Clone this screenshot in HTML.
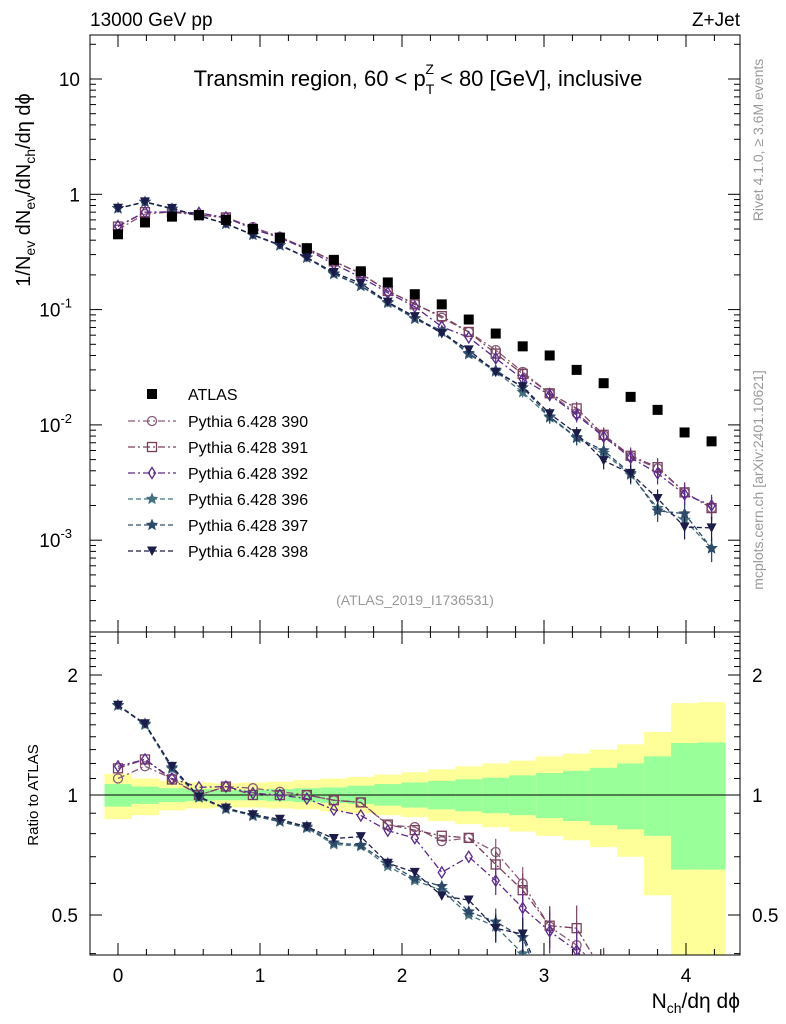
<!DOCTYPE html>
<html><head><meta charset="utf-8"><style>
html,body{margin:0;padding:0;background:#fff;overflow:hidden;width:786px;height:1024px;}
svg{display:block;font-family:"Liberation Sans",Arial,sans-serif;}
</style></head><body>
<svg id="chart" width="786" height="1024" xmlns="http://www.w3.org/2000/svg">
<defs>
<clipPath id="cm"><rect x="90" y="35" width="650" height="597"/></clipPath>
<clipPath id="cr"><rect x="90" y="632" width="650" height="323"/></clipPath>
</defs>
<g id="bands" clip-path="url(#cr)"></g>
<g id="axes"></g>
<g id="mainMarks" clip-path="url(#cm)"></g>
<g id="ratioMarks" clip-path="url(#cr)"></g>
<text x="90" y="26" font-size="19">13000 GeV pp</text>
<text x="740" y="26" font-size="19" text-anchor="end">Z+Jet</text>
<text x="418" y="86" font-size="22" text-anchor="middle">Transmin region, 60 &lt; p<tspan font-size="14" dy="8">T</tspan><tspan font-size="14" dx="-9" dy="-20">Z</tspan><tspan dy="12"> &lt; 80 [GeV], inclusive</tspan></text>
<text x="415" y="605" font-size="14" fill="#999" text-anchor="middle">(ATLAS_2019_I1736531)</text>
<text transform="translate(763,140) rotate(-90)" font-size="14" fill="#999" text-anchor="middle">Rivet 4.1.0, ≥ 3.6M events</text>
<text transform="translate(763,480) rotate(-90)" font-size="14" fill="#999" text-anchor="middle">mcplots.cern.ch [arXiv:2401.10621]</text>
<text transform="translate(30,190) rotate(-90)" font-size="20" text-anchor="middle">1/N<tspan font-size="14" dy="5">ev</tspan><tspan dy="-5"> dN</tspan><tspan font-size="14" dy="5">ev</tspan><tspan dy="-5">/dN</tspan><tspan font-size="14" dy="5">ch</tspan><tspan dy="-5">/dη dϕ</tspan></text>
<text transform="translate(38,795) rotate(-90)" font-size="15" text-anchor="middle">Ratio to ATLAS</text>
<text x="740" y="1008" font-size="21" text-anchor="end">N<tspan font-size="14" dy="5">ch</tspan><tspan dy="-5">/dη dϕ</tspan></text>
<g id="legend"></g>
</svg>
<script>
const xs = [0,0.19,0.38,0.57,0.76,0.95,1.14,1.33,1.52,1.71,1.9,2.09,2.28,2.47,2.66,2.85,3.04,3.23,3.42,3.61,3.8,3.99,4.18];
const atlas = [0.45,0.57,0.64,0.66,0.60,0.50,0.42,0.34,0.27,0.215,0.172,0.136,0.111,0.082,0.062,0.048,0.040,0.030,0.023,0.0175,0.0135,0.0086,0.0072];
const p390 = [0.495,0.673,0.704,0.66,0.63,0.52,0.428,0.34,0.262,0.206,0.1445,0.113,0.085,0.064,0.0446,0.0288,0.0187,0.0126,0.0081,0.0053,0.0042,0.0026,0.0019];
const p391 = [0.525,0.70,0.70,0.66,0.63,0.50,0.42,0.34,0.262,0.206,0.145,0.111,0.0877,0.064,0.0415,0.0277,0.0188,0.0139,0.0082,0.0054,0.0043,0.0026,0.0019];
const p392 = [0.531,0.70,0.704,0.69,0.63,0.505,0.42,0.333,0.248,0.191,0.140,0.106,0.071,0.0574,0.0378,0.025,0.0182,0.0122,0.0079,0.0052,0.0038,0.0025,0.002];
const p396 = [0.754,0.855,0.745,0.65,0.553,0.443,0.36,0.281,0.203,0.16,0.114,0.083,0.064,0.041,0.029,0.0192,0.0116,0.0077,0.0057,0.0037,0.0019,0.0015,0.00085];
const p397 = [0.756,0.86,0.75,0.653,0.556,0.445,0.361,0.283,0.205,0.161,0.116,0.084,0.0655,0.0418,0.0298,0.0211,0.0118,0.0078,0.006,0.0038,0.0018,0.0017,0.00085];
const p398 = [0.756,0.86,0.755,0.653,0.556,0.446,0.365,0.283,0.21,0.169,0.116,0.087,0.062,0.0447,0.0287,0.0215,0.0125,0.0084,0.0049,0.0038,0.0023,0.0013,0.00128];
const yelHi = [1.13,1.10,1.085,1.075,1.07,1.075,1.08,1.09,1.10,1.11,1.125,1.14,1.16,1.18,1.20,1.22,1.25,1.27,1.30,1.34,1.44,1.70,1.71];
const yelLo = [0.87,0.89,0.915,0.925,0.93,0.93,0.925,0.92,0.91,0.9,0.89,0.88,0.86,0.845,0.83,0.81,0.79,0.77,0.74,0.70,0.56,0.3,0.3];
const grnHi = [1.065,1.05,1.04,1.035,1.03,1.03,1.035,1.04,1.045,1.055,1.065,1.075,1.085,1.095,1.105,1.12,1.135,1.15,1.17,1.2,1.25,1.35,1.355];
const grnLo = [0.935,0.95,0.96,0.965,0.97,0.97,0.965,0.96,0.955,0.95,0.94,0.93,0.92,0.91,0.9,0.89,0.875,0.86,0.84,0.82,0.79,0.65,0.65];
const seriesNames = ["Pythia 6.428 390","Pythia 6.428 391","Pythia 6.428 392","Pythia 6.428 396","Pythia 6.428 397","Pythia 6.428 398"];
const mainTicks = [10,1,0.1,0.01,0.001];
const mainTickLabels = ["10","1","10|-1","10|-2","10|-3"];
const xTicks = [0,1,2,3,4];
const ratioTickLabels = [0.5,1,2];

const NS="http://www.w3.org/2000/svg";
function X(v){return 118+v*142;}
function Y(v){return 79+(1-Math.log10(v))*115.3;}
function R(v){return 795-Math.log10(v)*398.6;}
function mk(tag,attrs,parent){const e=document.createElementNS(NS,tag);for(const k in attrs)e.setAttribute(k,attrs[k]);parent.appendChild(e);return e;}

const styles=[
 {c:"#8a5a7a",d:"7,3,2,3",m:"circle",n:"pythia-390"},
 {c:"#7a3f5c",d:"7,3,2,3",m:"square",n:"pythia-391"},
 {c:"#5b2a8c",d:"7,3,2,3",m:"diamond",n:"pythia-392"},
 {c:"#45707f",d:"5,3",m:"star",n:"pythia-396"},
 {c:"#2e4a6a",d:"5,3",m:"star",n:"pythia-397"},
 {c:"#1c1c4a",d:"5,3",m:"tri",n:"pythia-398"}];
const series=[p390,p391,p392,p396,p397,p398];

function starPts(cx,cy,r){let s=[];for(let i=0;i<10;i++){const a=-Math.PI/2+i*Math.PI/5;const rr=i%2?r*0.45:r;s.push((cx+rr*Math.cos(a)).toFixed(1)+","+(cy+rr*Math.sin(a)).toFixed(1));}return s.join(" ");}
function marker(type,cx,cy,c,g){
 let e;
 if(type==="circle")e=mk("circle",{cx:cx,cy:cy,r:4.5,fill:"none",stroke:c,"stroke-width":1.3},g);
 else if(type==="square")e=mk("rect",{x:cx-4.5,y:cy-4.5,width:9,height:9,fill:"none",stroke:c,"stroke-width":1.3},g);
 else if(type==="diamond")e=mk("polygon",{points:`${cx},${cy-5.5} ${cx+3.5},${cy} ${cx},${cy+5.5} ${cx-3.5},${cy}`,fill:"none",stroke:c,"stroke-width":1.3},g);
 else if(type==="star")e=mk("polygon",{points:starPts(cx,cy,6.5),fill:c},g);
 else if(type==="tri")e=mk("polygon",{points:`${cx-5},${cy-4.5} ${cx+5},${cy-4.5} ${cx},${cy+5}`,fill:c},g);
 else if(type==="atlas")e=mk("rect",{x:cx-5,y:cy-5,width:10,height:10,fill:"#000"},g);
 return e;
}

const bands=document.getElementById("bands");
for(let i=0;i<xs.length;i++){
 const x0=X(xs[i]-0.095), x1=X(xs[i]+0.095);
 const y=mk("rect",{x:x0,y:R(yelHi[i]),width:x1-x0+0.5,height:R(yelLo[i])-R(yelHi[i]),fill:"#ffff99"},bands);
 
 
 const gr=mk("rect",{x:x0,y:R(grnHi[i]),width:x1-x0+0.5,height:R(grnLo[i])-R(grnHi[i]),fill:"#99ff99"},bands);
 
 
}

const ax=document.getElementById("axes");
mk("rect",{x:90,y:35,width:650,height:597,fill:"none",stroke:"#000","stroke-width":1},ax);
mk("rect",{x:90,y:632,width:650,height:323,fill:"none",stroke:"#000","stroke-width":1},ax);
const one=mk("line",{x1:90,x2:740,y1:R(1),y2:R(1),stroke:"#000","stroke-width":1},ax);

for(let v=-0.2;v<=4.4;v+=0.2){
 const vv=Math.round(v*10)/10; if(X(vv)<90||X(vv)>740)continue;
 const major=Math.abs(vv-Math.round(vv))<1e-6; const L=major?12:6;
 [[632,-1],[35,1],[955,-1],[632,1]].forEach(([y,d])=>mk("line",{x1:X(vv),x2:X(vv),y1:y,y2:y+d*L,stroke:"#000"},ax));
}
xTicks.forEach(v=>{const t=mk("text",{x:X(v),y:982,"font-size":19,"text-anchor":"middle"},ax);t.textContent=v;
 });
for(let e=-4;e<=1;e++){for(let k=1;k<=9;k++){const v=k*Math.pow(10,e);const y=Y(v);if(y<35||y>632)continue;
 const L=k===1?12:6; mk("line",{x1:90,x2:90+L,y1:y,y2:y,stroke:"#000"},ax); mk("line",{x1:740,x2:740-L,y1:y,y2:y,stroke:"#000"},ax);}}
mainTicks.forEach((v,i)=>{const parts=mainTickLabels[i].split("|");
 const t=mk("text",{x:parts[1]?72:80,y:Y(v)+7,"font-size":19,"text-anchor":"end"},ax);t.textContent=parts[0];
 
 if(parts[1]){const s=mk("tspan",{"font-size":13,dy:-9},t);s.textContent=parts[1];}});
for(let k=4;k<=25;k++){const v=k/10;const y=R(v);if(y<632||y>955)continue;
 const major=(v===0.5||v===1||v===2);const L=major?12:6;
 mk("line",{x1:90,x2:90+L,y1:y,y2:y,stroke:"#000"},ax);mk("line",{x1:740,x2:740-L,y1:y,y2:y,stroke:"#000"},ax);}
ratioTickLabels.forEach(v=>{
 const t=mk("text",{x:78,y:R(v)+7,"font-size":19,"text-anchor":"end"},ax);t.textContent=v;
 
 const t2=mk("text",{x:752,y:R(v)+7,"font-size":19},ax);t2.textContent=v;
 });

const mm=document.getElementById("mainMarks"), rm=document.getElementById("ratioMarks");
series.forEach((s,si)=>{
 const st=styles[si];
 const pl=mk("polyline",{points:s.map((v,i)=>X(xs[i])+","+Y(v)).join(" "),fill:"none",stroke:st.c,"stroke-width":1.3,"stroke-dasharray":st.d},mm);
 
 const rl=mk("polyline",{points:s.map((v,i)=>X(xs[i])+","+R(v/atlas[i])).join(" "),fill:"none",stroke:st.c,"stroke-width":1.3,"stroke-dasharray":st.d},rm);
 
 s.forEach((v,i)=>{
  if(i>=14){const e=0.08+0.02*(i-14);
   mk("line",{x1:X(xs[i]),x2:X(xs[i]),y1:Y(v*(1+e)),y2:Y(v*(1-e)),stroke:st.c,"stroke-width":1.2},mm);
   mk("line",{x1:X(xs[i]),x2:X(xs[i]),y1:R(v*(1+e)/atlas[i]),y2:R(v*(1-e)/atlas[i]),stroke:st.c,"stroke-width":1.2},rm);}
  const m=marker(st.m,X(xs[i]),Y(v),st.c,mm);
  
  
  const m2=marker(st.m,X(xs[i]),R(v/atlas[i]),st.c,rm);
  
  
 });
});
atlas.forEach((v,i)=>{const m=marker("atlas",X(xs[i]),Y(v),"#000",mm);
 
 });

const lg=document.getElementById("legend");
const la=marker("atlas",152,394,"#000",lg);

const lt=mk("text",{x:188,y:400,"font-size":16},lg);lt.textContent="ATLAS";

seriesNames.forEach((n,i)=>{const y=421+i*26;const st=styles[i];
 const ln=mk("line",{x1:128,x2:176,y1:y,y2:y,stroke:st.c,"stroke-width":1.3,"stroke-dasharray":st.d},lg);
 
 const m=marker(st.m,152,y,st.c,lg);
 
 const t=mk("text",{x:188,y:y+6,"font-size":16},lg);t.textContent=n;
 
 });
</script>
</body></html>
